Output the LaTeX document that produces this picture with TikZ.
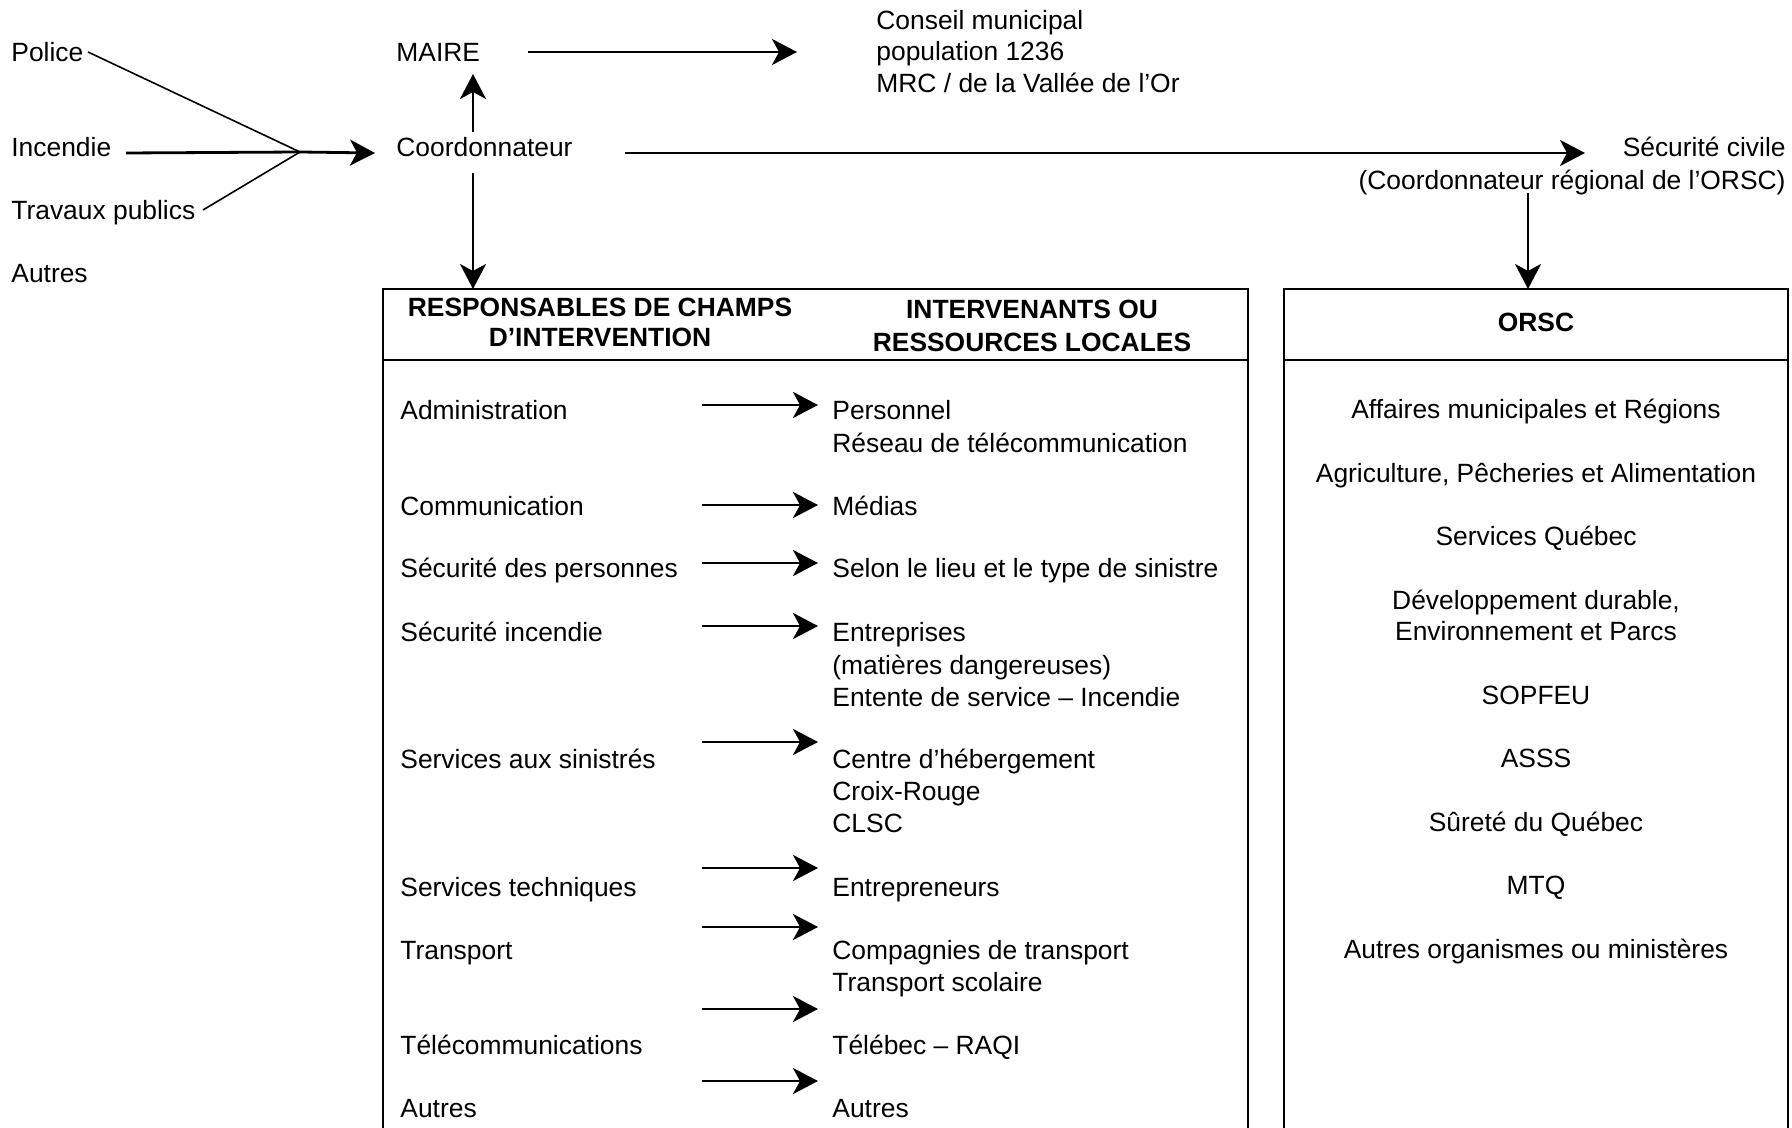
\documentclass[tikz,border=0pt]{standalone}
\usepackage{fontspec}
\setmainfont{Liberation Sans}
\usetikzlibrary{arrows.meta}
\newcommand{\stackL}[2]{{\def\arraystretch{1}\fontsize{13.2}{#1}\selectfont\begin{tabular}[t]{@{}l@{}}#2\end{tabular}}}
\newcommand{\stackC}[2]{{\def\arraystretch{1}\fontsize{13.2}{#1}\selectfont\begin{tabular}[t]{@{}c@{}}#2\end{tabular}}}
\newcommand{\stackR}[2]{{\def\arraystretch{1}\fontsize{13.2}{#1}\selectfont\begin{tabular}[t]{@{}r@{}}#2\end{tabular}}}
\begin{document}
\begin{tikzpicture}[x=0.5pt,y=-0.5pt,
  every node/.style={font=\fontsize{13.2}{16}\selectfont, inner sep=0pt},
  txt/.style={anchor=base west},
  ctxt/.style={anchor=base},
  rtxt/.style={anchor=base east},
  hdr/.style={anchor=base, font=\fontsize{13.2}{16}\selectfont\bfseries},
  arr/.style={line width=1.4pt, -{Stealth[length=12.5pt,width=13pt,inset=3.5pt]}},
  feed/.style={line width=0.8pt},
  box/.style={line width=1.3pt}]
\useasboundingbox (0,0) rectangle (1792,1128);

% ---- left inputs
\node[txt] (police) at (11,61.5) {Police};
\node[txt] (incendie) at (11,156.5) {Incendie};
\node[txt] (travaux) at (11,219.5) {Travaux publics};
\node[txt] (autresin) at (11,282.5) {Autres};

% ---- top nodes
\node[txt] (maire) at (396,61.5) {MAIRE};
\node[txt] (coord) at (396,156.5) {Coordonnateur};
\node[txt] (conseil) at (876,29.5) {\stackL{15.75pt}{Conseil municipal\\population 1236\\MRC / de la Vallée de l’Or}};
\node[rtxt] (secciv) at (1786,156.5) {\stackR{16.5pt}{Sécurité civile\\(Coordonnateur régional de l’ORSC)}};

% ---- connector coordinates
\coordinate (polE) at (88,52);
\coordinate (incE) at (126,153);
\coordinate (travE) at (203,210);
\coordinate (conv) at (300,152);
\coordinate (coordW) at (375,153);
\coordinate (coordN) at (473,132);
\coordinate (maireS) at (473,74);
\coordinate (coordS) at (473,173);
\coordinate (boxLtop) at (473,289);
\coordinate (maireE) at (528,52);
\coordinate (conseilW) at (797,52);
\coordinate (coordE) at (625,153);
\coordinate (seccivW) at (1585,153);
\coordinate (seccivS) at (1528,193);
\coordinate (boxRtop) at (1528,289);

\draw[feed] (polE) -- (conv);
\draw[feed] (travE) -- (conv);
\draw[line width=1.4pt] (incE) -- (conv);
\draw[arr] (conv) -- (coordW);
\draw[arr] (coordN) -- (maireS);
\draw[arr] (coordS) -- (boxLtop);
\draw[arr] (maireE) -- (conseilW);
\draw[arr] (coordE) -- (seccivW);
\draw[arr] (seccivS) -- (boxRtop);

% ---- left box
\draw[box] (383,1128) -- (383,289) -- (1248,289) -- (1248,1128);
\draw[box] (383,360) -- (1248,360);
\node[ctxt, font=\fontsize{13.2}{16}\selectfont\bfseries] (hdrA) at (600,316.5) {\stackC{15pt}{\bfseries RESPONSABLES DE CHAMPS\\\bfseries D’INTERVENTION}};
\node[ctxt, font=\fontsize{13.2}{16}\selectfont\bfseries] (hdrB) at (1032,318.5) {\stackC{16.5pt}{\bfseries INTERVENANTS OU\\\bfseries RESSOURCES LOCALES}};

\node[txt] (l1) at (400,419.5) {Administration};
\node[txt] (l2) at (400,515.5) {Communication};
\node[txt] (l3) at (400,577.5) {Sécurité des personnes};
\node[txt] (l4) at (400,641.5) {Sécurité incendie};
\node[txt] (l5) at (400,768.5) {Services aux sinistrés};
\node[txt] (l6) at (400,896.5) {Services techniques};
\node[txt] (l7) at (400,959.5) {Transport};
\node[txt] (l8) at (400,1054.5) {Télécommunications};
\node[txt] (l9) at (400,1117.5) {Autres};

\node[txt] (r1) at (832,419.5) {\stackL{16.5pt}{Personnel\\Réseau de télécommunication}};
\node[txt] (r2) at (832,515.5) {Médias};
\node[txt] (r3) at (832,577.5) {Selon le lieu et le type de sinistre};
\node[txt] (r4) at (832,641.5) {\stackL{16.25pt}{Entreprises\\(matières dangereuses)\\Entente de service – Incendie}};
\node[txt] (r5) at (832,768.5) {\stackL{16pt}{Centre d’hébergement\\Croix-Rouge\\CLSC}};
\node[txt] (r6) at (832,896.5) {Entrepreneurs};
\node[txt] (r7) at (832,959.5) {\stackL{16pt}{Compagnies de transport\\Transport scolaire}};
\node[txt] (r8) at (832,1054.5) {Télébec – RAQI};
\node[txt] (r9) at (832,1117.5) {Autres};

\foreach \i/\y in {1/405,2/505,3/563,4/626,5/742,6/868,7/927,8/1009,9/1081}{
  \coordinate (s\i) at (702,\y);
  \coordinate (e\i) at (818,\y);
  \draw[arr] (s\i) -- (e\i);
}

% ---- ORSC box
\draw[box] (1284,1128) -- (1284,289) -- (1788,289) -- (1788,1128);
\draw[box] (1284,360) -- (1788,360);
\node[hdr] (orsc) at (1536,331.5) {ORSC};
\node[ctxt] (o1) at (1536,418.5) {Affaires municipales et Régions};
\node[ctxt] (o2) at (1536,482.5) {Agriculture, Pêcheries et Alimentation};
\node[ctxt] (o3) at (1536,545.5) {Services Québec};
\node[ctxt] (o4) at (1536,609.5) {\stackC{15.5pt}{Développement durable,\\Environnement et Parcs}};
\node[ctxt] (o5) at (1536,704.5) {SOPFEU};
\node[ctxt] (o6) at (1536,767.5) {ASSS};
\node[ctxt] (o7) at (1536,831.5) {Sûreté du Québec};
\node[ctxt] (o8) at (1536,894.5) {MTQ};
\node[ctxt] (o9) at (1536,958.5) {Autres organismes ou ministères};
\end{tikzpicture}
\end{document}
